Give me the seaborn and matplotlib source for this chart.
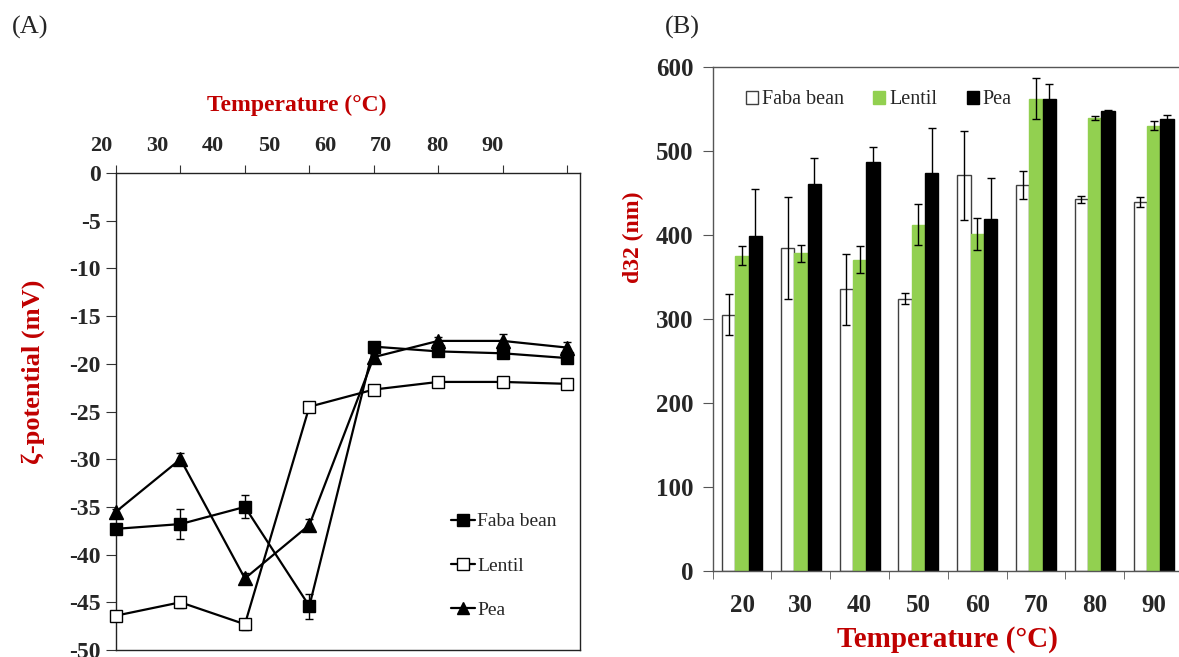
import numpy as np
import pandas as pd
import matplotlib
matplotlib.use("Agg")
import matplotlib.pyplot as plt
import seaborn as sns

# ---- data ----
temps = [20, 30, 40, 50, 60, 70, 80, 90]
varieties = ["Faba bean", "Lentil", "Pea"]

# (A) zeta-potential (mV)
zeta_faba = [-37.3, -36.8, -35.0, -45.4, -18.2, -18.7, -18.9, -19.4]
zeta_lentil = [-46.4, -45.0, -47.3, -24.5, -22.7, -21.9, -21.9, -22.1]
zeta_pea = [-35.5, -30.0, -42.5, -36.9, -19.3, -17.6, -17.6, -18.3]
zeta_faba_err = [0.4, 1.6, 1.2, 1.3, 0.3, 0.3, 0.3, 0.3]
zeta_lentil_err = [0.3, 0.6, 0.6, 0.3, 0.3, 0.2, 0.2, 0.2]
zeta_pea_err = [0.3, 0.6, 0.6, 0.6, 0.3, 0.4, 0.7, 0.6]

# (B) d32 (nm)
d32_faba = [305, 384, 335, 324, 471, 459, 442, 439]
d32_lentil = [375, 378, 370, 412, 401, 562, 539, 530]
d32_pea = [398, 460, 486, 474, 419, 562, 547, 538]
d32_faba_err = [24, 61, 42, 7, 53, 17, 4, 6]
d32_lentil_err = [11, 10, 16, 24, 19, 24, 2, 5]
d32_pea_err = [56, 31, 18, 53, 49, 18, 1, 4]

red = "#C00000"
green = "#92D050"

sns.set_style("white")
plt.rcParams["font.family"] = ["Liberation Serif", "DejaVu Serif"]
plt.rcParams["axes.unicode_minus"] = False

W, H = 1179, 657
fig = plt.figure(figsize=(W / 100, H / 100), dpi=100)

# ================= (A) =================
axA = fig.add_axes([116 / W, 1 - 650 / H, (580 - 116) / W, (650 - 173) / H])
zeta = {"Faba bean": (zeta_faba, zeta_faba_err, "s", "black"),
        "Lentil": (zeta_lentil, zeta_lentil_err, "s", "white"),
        "Pea": (zeta_pea, zeta_pea_err, "^", "black")}
for name in varieties:
    vals, errs, mk, fc = zeta[name]
    axA.errorbar(temps, vals, yerr=errs, fmt="none", ecolor="black",
                 elinewidth=1, capsize=3, capthick=1, zorder=2,
                 clip_on=False)
    sns.lineplot(x=temps, y=vals, ax=axA, color="black", lw=1.6,
                 marker=mk, markersize=9 if mk == "s" else 10,
                 markerfacecolor=fc, markeredgecolor="black",
                 markeredgewidth=1, label=name, zorder=3, clip_on=False)

axA.set_xlim(20, 92)
axA.set_ylim(-50, 0)
axA.set_yticks(np.arange(-50, 1, 5))
axA.set_xticks(temps)
axA.xaxis.tick_top()
axA.tick_params(axis="x", which="both", top=True, bottom=False,
                labeltop=False, labelbottom=False, length=6,
                direction="out", color="#333333")
axA.tick_params(axis="y", left=True, length=7, direction="out",
                color="#333333", labelsize=17, pad=4)
for lbl in axA.get_yticklabels():
    lbl.set_fontweight("bold")
for s in axA.spines.values():
    s.set_color("#222222")
    s.set_linewidth(1)
axA.set_xlabel("")
axA.set_ylabel("ζ-potential (mV)", color=red, fontsize=19,
               fontweight="bold")
axA.yaxis.set_label_coords(-0.152, 0.583)

leg = axA.legend(loc="center left", bbox_to_anchor=(441 / W, 1 - 566 / H),
                 bbox_transform=fig.transFigure, frameon=False,
                 fontsize=14, labelspacing=1.38, handlelength=1.25,
                 handletextpad=0.1, borderpad=0, markerscale=0.9)

# top temperature labels (drawn offset from the data ticks, as in original)
axT = fig.add_axes([101 / W, 1 - 650 / H, (493 - 101) / W, (650 - 173) / H])
axT.patch.set_visible(False)
for s in axT.spines.values():
    s.set_visible(False)
axT.set_xlim(20, 90)
axT.set_xticks(temps)
axT.set_xticklabels([str(t) for t in temps], fontsize=16, fontweight="bold")
axT.xaxis.tick_top()
axT.tick_params(axis="x", length=0, pad=12)
axT.set_yticks([])
axT.xaxis.set_label_position("top")
axT.set_xlabel("Temperature (°C)", color=red, fontsize=17,
               fontweight="bold", labelpad=18)

# ================= (B) =================
axB = fig.add_axes([712.7 / W, 1 - 570.7 / H, (1183 - 712.7) / W,
                    (570.7 - 66.7) / H])
df = pd.DataFrame({
    "temp": temps * 3,
    "variety": np.repeat(varieties, len(temps)),
    "d32": d32_faba + d32_lentil + d32_pea,
})
errs_b = [d32_faba_err, d32_lentil_err, d32_pea_err]
sns.barplot(data=df, x="temp", y="d32", hue="variety", ax=axB,
            palette=["white", green, "black"], width=0.68, errorbar=None,
            saturation=1, legend=True)
edges = ["#404040", green, "black"]
for cont, ec, errs in zip(axB.containers, edges, errs_b):
    xs, ys = [], []
    for p in cont.patches:
        p.set_edgecolor(ec)
        p.set_linewidth(1)
        xs.append(p.get_x() + p.get_width() / 2)
        ys.append(p.get_height())
    axB.errorbar(xs, ys, yerr=errs, fmt="none", ecolor="black",
                 elinewidth=1, capsize=3, capthick=1, zorder=4)

axB.set_xlim(-0.5, 7.5)
axB.set_ylim(0, 600)
axB.set_yticks(np.arange(0, 601, 100))
axB.set_xticks(np.arange(8))
axB.set_xticklabels([str(t) for t in temps], fontsize=18, fontweight="bold")
axB.set_xticks(np.arange(-0.5, 7.5, 1), minor=True)
axB.tick_params(axis="x", which="major", length=0, pad=17)
axB.tick_params(axis="x", which="minor", bottom=True, length=6,
                direction="out", color="#555555")
axB.tick_params(axis="y", left=True, length=7, direction="out",
                color="#555555", labelsize=18, pad=7)
for lbl in axB.get_yticklabels():
    lbl.set_fontweight("bold")
for side in ["left", "bottom", "top"]:
    axB.spines[side].set_color("#555555")
    axB.spines[side].set_linewidth(1)
axB.spines["right"].set_visible(False)
axB.set_xlabel("Temperature (°C)", color=red, fontsize=21,
               fontweight="bold", labelpad=6)
axB.set_ylabel("d32 (nm)", color=red, fontsize=17, fontweight="bold")
axB.yaxis.set_label_coords(-0.146, 0.662)

axB.legend(loc="center left", bbox_to_anchor=(736 / W, 1 - 100 / H),
           bbox_transform=fig.transFigure, frameon=False, ncol=3,
           fontsize=14.5, handlelength=0.6, handleheight=0.6,
           handletextpad=0.2, columnspacing=1.45, borderpad=0)
for h in axB.get_legend().legend_handles:
    h.set_linewidth(1)
    h.set_edgecolor("#404040" if h.get_facecolor()[0] == 1 else h.get_facecolor())

fig.text(12 / W, 1 - 27 / H, "(A)", fontsize=19, va="center", ha="left")
fig.text(665 / W, 1 - 27 / H, "(B)", fontsize=19, va="center", ha="left")

fig.savefig("out.png", dpi=100)
